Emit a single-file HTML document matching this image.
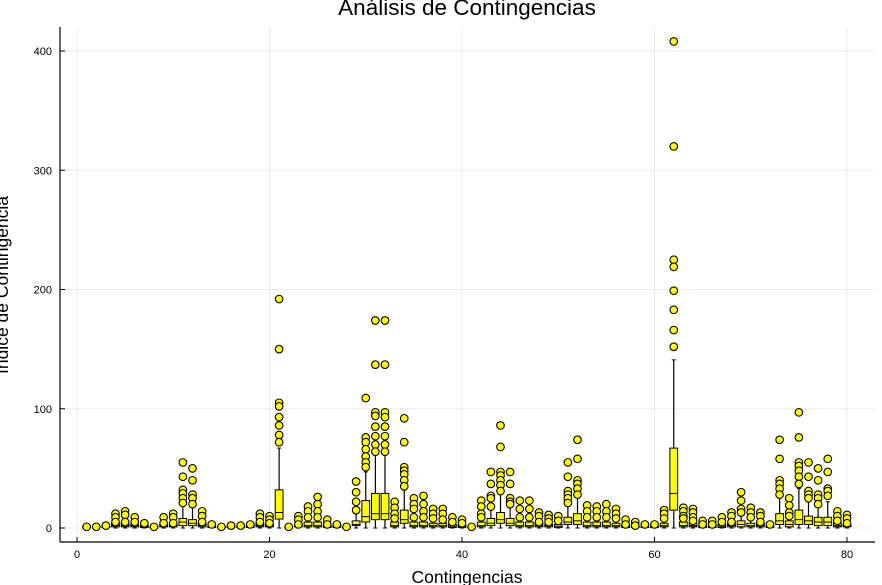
<!DOCTYPE html>
<html><head><meta charset="utf-8"><style>
body{margin:0;background:#fff;}
svg{display:block;font-family:"Liberation Sans",sans-serif;}
</style></head><body>
<svg id="chart" width="882" height="585"></svg>
<script>
// categories 1..80
const categories = Array.from({length:80},(_,i)=>i+1);
// box stats: q1, median, q3, upper whisker
const q1s  = [0.5,0.5,0.5,1,1,1,0.5,0.3,1,1, 2,2,1,0.5,0.3,0.5,0.5,0.5,1,1, 7.5,0.3,1,1,1,0.5,0.5,0.3,2,5, 7,7,1,4,1,1,1,1,0.5,0.5, 0.3,1,2,4,2,1,1,1,1,0.5, 3,3,1,1,1,1,0.5,0.5,0.5,0.5, 1,15,1,1,0.5,0.5,0.5,1,1,1, 1,0.5,3,1,3,3,2,2,1,1];
const meds = [1,1,1.5,2,2,2,1,0.8,2,2, 5,4,2,1.5,0.8,1,1,1.5,2,2, 13,0.8,2,2,2,1.5,1,0.8,3,9.5, 12,12,2,7,2,2,2,2,1.5,1.5, 0.8,2,4,7,4,2,2,2,2,1.5, 5,6,2,2,2,2,1.5,1,1,1, 2,29,2,2,1.5,1.5,1.5,2,3,2, 2,1,6,3,7,6,5,5,2,2];
const q3s  = [1.5,1.5,2,4,4,3,2,1.2,3,4, 8,7,4,2.5,1.2,1.5,1.5,2.5,4,3, 32,1.2,3,5,5,2.5,2,1.2,6,23, 29,29,5,15,5,5,4,4,3,2.5, 1.2,5,8,13,8,5,5,4,3,3, 9,12,5,5,5,4,2.5,2,1.5,1.5, 4,67,5,4,2.5,2.5,3,4,6,4, 4,1.5,12,6,15,10,9,9,4,3];
const whis = [2,2,3,6,7,5,4,1.5,6,7, 18,17,7,3,1.5,2,2,3,7,5, 67,1.5,6,10,8,5,3,1.5,12,47, 61,61,8,32,8,8,7,7,5,4, 1.5,8,15,28,17,8,8,8,6,5, 18,25,8,8,8,7,4,3,2,2, 7,141,8,6,4,4,6,8,11,8, 8,2,25,9,33,22,18,22,7,6];
const outliers = [[1],[1],[2],[12,9,5],[14,11,5],[9,5],[4],[1],[9,4],[12,9,4],
[55,43,32,29,25,21],[50,40,28,25,20],[14,10,5],[3],[1],[2],[2],[3],[12,9,5],[10,7,4],
[192,150,105,102,93,86,78,72],[1],[10,7,3],[18,14,9],[26,20,14,9],[7,3],[3],[1],[39,30,22,15],[109,76,72,66,60,55,51],
[174,137,97,94,85,77,70,64],[174,137,97,93,85,77,70,64],[22,17,12,8],[92,72,51,48,45,40,35],[25,20,16,9],[27,20,14,9],[16,12,8],[16,12,7],[9,5],[7,4],
[1],[23,18,12,9],[47,37,27,25,18],[86,68,47,44,40,36,31],[47,37,25,22,20],[23,16,9],[23,16,9],[13,10,5],[11,8,5],[10,6],
[55,43,31,28,25,21],[74,58,40,37,33,28],[19,14,9],[18,14,9],[20,14,9],[16,12,8],[7,3],[5,2],[3],[3],
[15,12,8],[408,320,225,219,199,183,166,152],[17,14,10,8],[16,13,9,6],[6,3],[6,3],[9,5],[13,10,5],[30,23,16,13],[17,13,9],
[13,10,5],[3],[74,58,40,37,33,28],[25,19,13,10],[97,76,55,52,48,43,37],[55,43,31,28,25],[50,40,28,25,20],[58,47,33,31,27],[14,10,6],[11,8,4]];
const xTicks=[0,20,40,60,80];
const yTicks=[0,100,200,300,400];

const NS="http://www.w3.org/2000/svg";
const svg=document.getElementById('chart');
const L=60,R=875,T=27,B=542;
const X=v=>77+v*9.625;
const Y=v=>528-v*1.1925;
function mk(t,a,parent){const e=document.createElementNS(NS,t);for(const k in a)e.setAttribute(k,a[k]);(parent||svg).appendChild(e);return e;}

const grid=mk('g',{});


xTicks.forEach(t=>mk('line',{x1:X(t),x2:X(t),y1:T,y2:B,stroke:'#000','stroke-opacity':0.08},grid));
yTicks.forEach(t=>mk('line',{x1:L,x2:R,y1:Y(t),y2:Y(t),stroke:'#000','stroke-opacity':0.08},grid));

const ax=mk('g',{});


mk('line',{x1:L,x2:R,y1:B,y2:B,stroke:'#000','stroke-width':1.2},ax);
mk('line',{x1:L,x2:L,y1:T,y2:B,stroke:'#000','stroke-width':1.2},ax);
xTicks.forEach(t=>{mk('line',{x1:X(t),x2:X(t),y1:B,y2:B-5,stroke:'#000'},ax);
 const tx=mk('text',{x:X(t),y:B+16,'text-anchor':'middle','font-size':11},ax);tx.textContent=t;
 
 });
yTicks.forEach(t=>{mk('line',{x1:L,x2:L+5,y1:Y(t),y2:Y(t),stroke:'#000'},ax);
 const tx=mk('text',{x:L-8,y:Y(t)+4,'text-anchor':'end','font-size':11},ax);tx.textContent=t;
 
 });

const hw=3.9;
categories.forEach((c,i)=>{
 const g=mk('g',{});
 
 
 const x=X(c);
 mk('line',{x1:x,x2:x,y1:Y(q3s[i]),y2:Y(whis[i]),stroke:'#000','stroke-width':1.2},g);
 mk('line',{x1:x,x2:x,y1:Y(q1s[i]),y2:Y(0),stroke:'#000','stroke-width':1.2},g);
 mk('line',{x1:x-2,x2:x+2,y1:Y(whis[i]),y2:Y(whis[i]),stroke:'#000'},g);
 mk('line',{x1:x-2,x2:x+2,y1:Y(0),y2:Y(0),stroke:'#000'},g);
 mk('rect',{x:x-hw,y:Y(q3s[i]),width:2*hw,height:Math.max(1,Y(q1s[i])-Y(q3s[i])),fill:'#ffff00',stroke:'#000','stroke-width':1},g);
 mk('line',{x1:x-hw,x2:x+hw,y1:Y(meds[i]),y2:Y(meds[i]),stroke:'#000','stroke-width':1},g);
 outliers[i].forEach(o=>{
  const p=mk('circle',{cx:x,cy:Y(o),r:3.8,fill:'#ffff00',stroke:'#000','stroke-width':1.1},g);
  
  
 });
});

const title=mk('text',{x:467,y:15,'text-anchor':'middle','font-size':22.5});
title.textContent='Análisis de Contingencias';


const xl=mk('text',{x:467,y:583,'text-anchor':'middle','font-size':17.5});
xl.textContent='Contingencias';


const yl=mk('text',{x:0,y:0,'text-anchor':'middle','font-size':17.5,transform:'translate(8,285) rotate(-90)'});
yl.textContent='Índice de Contingencia';


</script>
</body></html>
